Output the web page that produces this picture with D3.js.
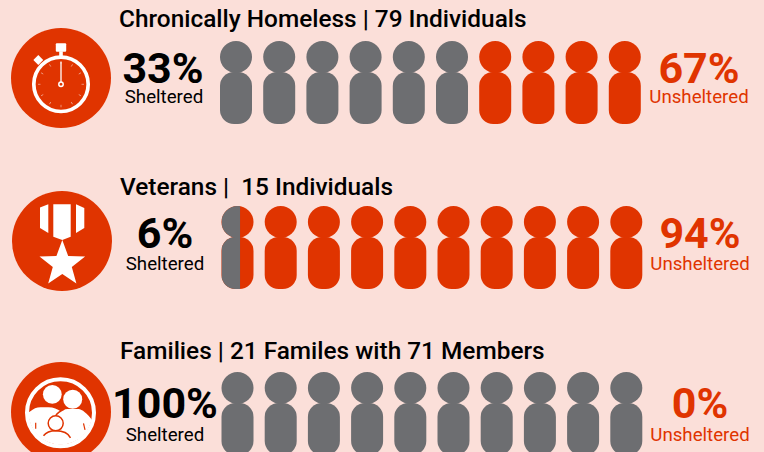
<!DOCTYPE html>
<html>
<head>
<meta charset="utf-8">
<script src="https://cdn.jsdelivr.net/npm/d3@7"></script>
<style>
  html, body { margin: 0; padding: 0; background: #fbdfd9; }
  svg { display: block; font-family: Roboto, sans-serif; }
</style>
</head>
<body>
<svg id="drawing_region" width="764" height="452"></svg>
<script>
const titles = ['Chronically Homeless | 79 Individuals', 'Veterans |  15 Individuals', 'Families | 21 Familes with 71 Members'];
const shelteredPct = [33, 6, 100];
const unshelteredPct = [67, 94, 0];
// grey people out of ten, as drawn in the picture
const greyPeople = [6, 0.58, 10];
const peopleIdx = d3.range(10);

const grey = '#6d6e71', red = '#e03400', black = '#000';

const layout = [
  {title_x: 119, title_y: 27, icon_x: 61, icon_y: 78, pct_x: 163, lab_x: 164, pct_y: 83, lab_y: 103, left: 220, top: 41, right_x: 699},
  {title_x: 120, title_y: 195, icon_x: 62, icon_y: 241, pct_x: 165, lab_x: 165, pct_y: 248, lab_y: 270, left: 221.5, top: 206, right_x: 700},
  {title_x: 120, title_y: 359, icon_x: 61, icon_y: 412, pct_x: 165, lab_x: 165, pct_y: 418, lab_y: 441, left: 221.5, top: 372, right_x: 700}
];

const svg = d3.select('#drawing_region');
const defs = svg.append('defs');

const personW = 32, step = 43.2;

function person(g) {
  g.append('circle').attr('cx', personW / 2).attr('cy', 16).attr('r', 16);
  g.append('rect').attr('x', 0).attr('y', 31).attr('width', personW).attr('height', 52).attr('rx', 14);
}

layout.forEach((l, r) => {
  svg.append('text').attr('x', l.title_x).attr('y', l.title_y)
    .attr('font-size', 24.4).attr('font-weight', 500).attr('fill', black)
    .style('white-space', 'pre').text(titles[r]);

  svg.append('circle').attr('cx', l.icon_x).attr('cy', l.icon_y).attr('r', 50).attr('fill', red);

  svg.append('text').attr('x', l.pct_x).attr('y', l.pct_y).attr('text-anchor', 'middle')
    .attr('font-size', 43).attr('font-weight', 700).attr('fill', black).text(shelteredPct[r] + '%');
  svg.append('text').attr('x', l.lab_x).attr('y', l.lab_y).attr('text-anchor', 'middle')
    .attr('font-size', 18.7).attr('fill', black).text('Sheltered');

  svg.append('text').attr('x', l.right_x).attr('y', l.pct_y).attr('text-anchor', 'middle')
    .attr('font-size', 43).attr('font-weight', 700).attr('fill', red).text(unshelteredPct[r] + '%');
  svg.append('text').attr('x', l.right_x).attr('y', l.lab_y).attr('text-anchor', 'middle')
    .attr('font-size', 18.7).attr('fill', red).text('Unsheltered');

  const x = d3.scaleLinear().domain([0, 10]).range([l.left, l.left + step * 10]);
  const fillWidth = d3.scaleLinear().domain([0, 1]).range([0, personW]);

  const people = svg.append('g').selectAll('g').data(peopleIdx).join('g')
    .attr('transform', d => `translate(${x(d)},${l.top})`);

  people.each(function (d) {
    const g = d3.select(this);
    const share = Math.max(0, Math.min(1, greyPeople[r] - d));
    const base = g.append('g').attr('fill', share === 1 ? grey : red);
    person(base);
    if (share > 0 && share < 1) {
      const id = `clip-${r}-${d}`;
      defs.append('clipPath').attr('id', id).append('rect')
        .attr('x', 0).attr('y', 0).attr('width', fillWidth(share)).attr('height', 90)
        .attr('transform', `translate(${x(d)},${l.top})`);
      const over = svg.append('g').attr('clip-path', `url(#${id})`)
        .append('g').attr('transform', `translate(${x(d)},${l.top})`).attr('fill', grey);
      person(over);
    }
  });
});

// stopwatch
const watch = svg.append('g').attr('transform', 'translate(61,84.3)');
watch.append('circle').attr('r', 27.2).attr('fill', 'none').attr('stroke', '#fff').attr('stroke-width', 3.7);
watch.append('rect').attr('x', -5.2).attr('y', -41).attr('width', 10.4).attr('height', 8.5).attr('rx', 1).attr('fill', '#fff');
watch.append('rect').attr('x', -1.8).attr('y', -33).attr('width', 3.6).attr('height', 6).attr('fill', '#fff');
watch.append('rect').attr('x', -3.5).attr('y', -3.5).attr('width', 7).attr('height', 7).attr('fill', '#fff')
  .attr('transform', 'translate(-22.7,-24.3) rotate(45)');
watch.selectAll('line.tick').data(d3.range(12)).join('line')
  .attr('y1', -23).attr('y2', -20.5).attr('stroke', '#fff').attr('stroke-width', 0.6).attr('stroke-opacity', 0.75)
  .attr('transform', d => `rotate(${d * 30})`);
watch.append('line').attr('y1', 0).attr('y2', -22.6).attr('stroke', '#fff').attr('stroke-width', 1.3);
watch.append('circle').attr('r', 2.2).attr('fill', red).attr('stroke', '#fff').attr('stroke-width', 1.5);

// medal
const medal = svg.append('g').attr('fill', '#fff');
medal.append('path').attr('d', 'M40,207.5 L48.3,204.3 V233 L40,228 Z');
medal.append('path').attr('d', 'M53.3,204.3 H70.7 V236.7 L62.3,240 L53.3,236.7 Z');
medal.append('path').attr('d', 'M76,204.3 L84.3,208 V228 L76,233 Z');
const star = d3.range(10).map(i => {
  const a = i * Math.PI / 5;
  const rad = i % 2 ? 10 : 24;
  return [rad * Math.sin(a), -rad * Math.cos(a)];
});
medal.append('path').attr('transform', 'translate(62.3,264)').attr('d', d3.line()(star) + 'Z');

// family
const fam = svg.append('g').attr('transform', 'translate(60.5,412.8)');
defs.append('clipPath').attr('id', 'fam-clip').append('circle').attr('cx', 60.5).attr('cy', 412.8).attr('r', 32);
fam.append('circle').attr('r', 33.5).attr('fill', 'none').attr('stroke', '#fff').attr('stroke-width', 4);
const famIn = svg.append('g').attr('clip-path', 'url(#fam-clip)').append('g').attr('transform', 'translate(60.5,412.8)');
famIn.append('path').attr('fill', '#fff')
  .attr('d', 'M-34,1 L-30.5,-1.2 C-27,-4 -24,-5.5 -20,-5.5 H-12 C-7,-5.5 -3,-3.5 0,-1.5 C2,-3 4,-3.8 7,-3.8 H18 C22,-3.5 27,1 34,10 V40 H-34 Z');
famIn.append('circle').attr('cx', -8.2).attr('cy', -18.5).attr('r', 9.4).attr('fill', '#fff');
famIn.append('circle').attr('cx', 12.2).attr('cy', -13.5).attr('r', 9.5).attr('fill', '#fff');
famIn.append('path').attr('fill', 'none').attr('stroke', red).attr('stroke-width', 1.4)
  .attr('d', 'M-5,3 C-3,0 1,-2.5 4,-3.8');
famIn.append('circle').attr('cx', -4.8).attr('cy', 10.5).attr('r', 7.5).attr('fill', '#fff').attr('stroke', red).attr('stroke-width', 1.5);
famIn.append('path').attr('fill', 'none').attr('stroke', red).attr('stroke-width', 1.5)
  .attr('d', 'M-17,23 C-14,19 -10,18 -4.8,18 C1,18 7,19 10,25');
famIn.append('line').attr('x1', -24.8).attr('x2', -24.8).attr('y1', 10).attr('y2', 16).attr('stroke', red).attr('stroke-width', 1.2);
famIn.append('line').attr('x1', 23).attr('x2', 24.5).attr('y1', 10.5).attr('y2', 17).attr('stroke', red).attr('stroke-width', 1.2);
</script>
</body>
</html>
